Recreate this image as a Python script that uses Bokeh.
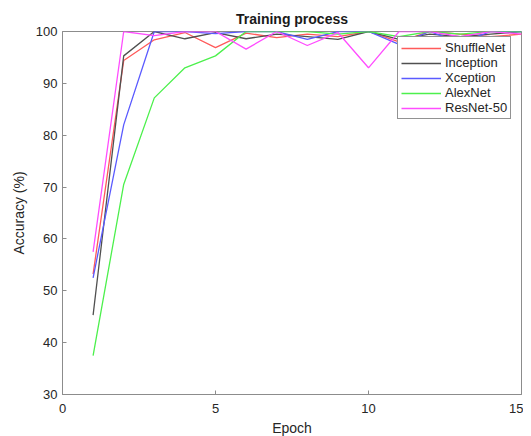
from bokeh.plotting import figure
from bokeh.models import Range1d, Legend, LegendItem, FixedTicker
from bokeh.embed import file_html
from bokeh.resources import INLINE

epochs = list(range(1, 16))
shufflenet = [53.2, 94.4, 98.4, 99.8, 96.9, 99.7, 98.8, 99.5, 99.0, 100.0, 98.0, 100.0, 99.5, 99.0, 99.5]
inception  = [45.3, 95.3, 100.0, 98.6, 99.8, 98.6, 99.5, 99.0, 98.5, 100.0, 98.5, 99.5, 99.0, 99.5, 100.0]
xception   = [52.5, 82.0, 100.0, 100.0, 99.6, 100.0, 100.0, 98.5, 100.0, 100.0, 97.5, 100.0, 97.8, 100.0, 100.0]
alexnet    = [37.5, 70.5, 87.2, 93.0, 95.3, 100.0, 100.0, 100.0, 99.5, 100.0, 99.0, 100.0, 99.5, 100.0, 100.0]
resnet50   = [57.5, 100.0, 99.2, 100.0, 100.0, 96.6, 100.0, 97.3, 99.8, 93.0, 100.0, 100.0, 99.0, 100.0, 99.5]

names = ["ShuffleNet", "Inception", "Xception", "AlexNet", "ResNet-50"]
series = [shufflenet, inception, xception, alexnet, resnet50]
colors = ["#ff5a5a", "#505050", "#5a5aff", "#4cf04c", "#ff4cff"]

FONT = "Liberation Sans"

p = figure(width=523, height=438, output_backend="svg", toolbar_location=None,
           x_range=Range1d(0, 15), y_range=Range1d(30, 100),
           min_border_left=62, min_border_right=2, min_border_top=31, min_border_bottom=40)

p.title.text = "Training process"
p.title.align = "center"
p.title.text_font = FONT
p.title.text_font_size = "14px"
p.title.text_font_style = "bold"
p.title.text_color = "#1a1a1a"
p.title.standoff = 10

p.xgrid.visible = False
p.ygrid.visible = False
p.outline_line_color = "#8c8c8c"
p.outline_line_width = 1

for ax in (p.xaxis[0], p.yaxis[0]):
    ax.axis_line_color = "#8c8c8c"
    ax.major_tick_line_color = "#8c8c8c"
    ax.major_tick_in = 4
    ax.major_tick_out = 0
    ax.minor_tick_line_color = None
    ax.major_label_text_font = FONT
    ax.major_label_text_font_size = "13px"
    ax.major_label_text_color = "#262626"
    ax.axis_label_text_font = FONT
    ax.axis_label_text_font_size = "14px"
    ax.axis_label_text_font_style = "normal"
    ax.axis_label_text_color = "#262626"

p.xaxis.ticker = FixedTicker(ticks=[0, 5, 10, 15])
p.yaxis.ticker = FixedTicker(ticks=[30, 40, 50, 60, 70, 80, 90, 100])
p.xaxis.axis_label = "Epoch"
p.yaxis.axis_label = "Accuracy (%)"
p.xaxis.axis_label_standoff = 4
p.yaxis.axis_label_standoff = 6
p.xaxis.major_label_standoff = 9

items = []
for name, vals, c in zip(names, series, colors):
    r = p.line(epochs, vals, line_color=c, line_width=1.3)
    items.append(LegendItem(label=name, renderers=[r]))

legend = Legend(items=items, location=(335, 275),
                label_text_font=FONT, label_text_font_size="13px", label_text_color="#262626",
                glyph_width=40, glyph_height=14, label_height=14, spacing=0,
                padding=3, label_standoff=4, margin=0,
                border_line_color="#262626", border_line_width=1,
                background_fill_color="white", background_fill_alpha=1.0)
p.add_layout(legend, "center")

open("out.html", "w").write(file_html(p, INLINE))
